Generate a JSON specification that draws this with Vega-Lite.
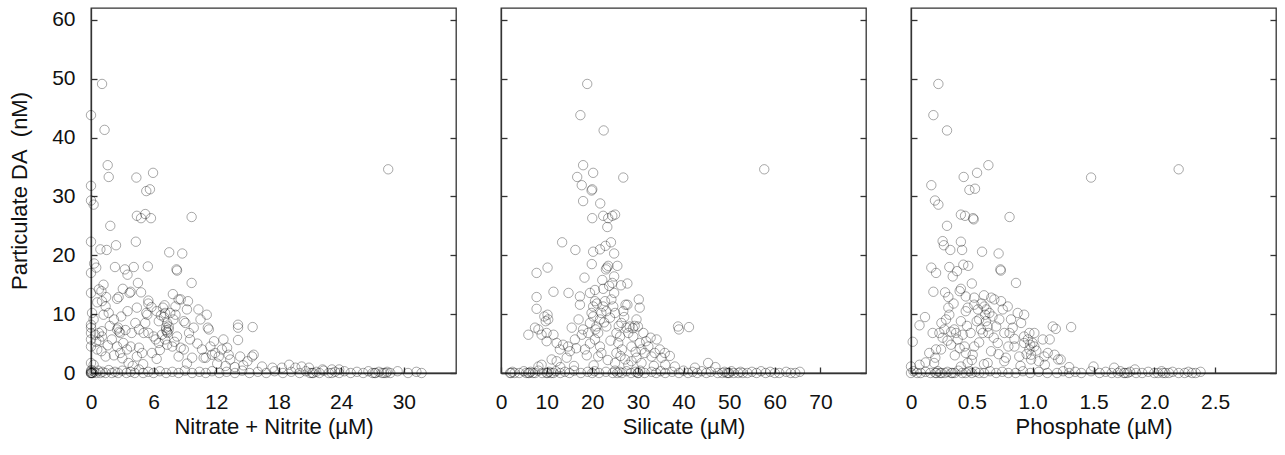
{
"$schema": "https://vega.github.io/schema/vega-lite/v6.json",
"background": "white",
"padding": {"left": 7, "top": 7, "right": 5, "bottom": 5},
"bounds": "flush",
"spacing": 45,
"config": {
  "view": {"stroke": "#333", "strokeWidth": 1.3},
  "font": "Liberation Sans",
  "axis": {"domainColor": "#333", "domainWidth": 1.3, "tickColor": "#333", "tickWidth": 1.3, "tickSize": -6, "labelFont": "Liberation Sans", "labelFontSize": 21, "labelColor": "#111", "titleFont": "Liberation Sans", "titleFontSize": 22, "titleFontWeight": "normal", "titleColor": "#111", "grid": false, "labelFlush": false},
  "axisX": {"labelPadding": 24, "titlePadding": 4},
  "axisY": {"labelPadding": 22, "titlePadding": 20}
},
"datasets": {
"nitrate": [
{"conc":1.06,"da":49.1},{"conc":0,"da":43.8},{"conc":1.3,"da":41.3},{"conc":1.6,"da":35.3},{"conc":1.7,"da":33.3},{"conc":0,"da":31.8},{"conc":0,"da":29.3},{"conc":0.25,"da":28.6},{"conc":1.85,"da":25},{"conc":0,"da":22.3},{"conc":0.9,"da":21},{"conc":1.5,"da":20.9},{"conc":2.4,"da":21.7},{"conc":0.3,"da":18.6},{"conc":0.5,"da":17.9},{"conc":0,"da":17},{"conc":2.3,"da":18},{"conc":0,"da":13.6},{"conc":0.75,"da":14.2},{"conc":1,"da":13.9},{"conc":1.45,"da":12.9},{"conc":2.65,"da":12.9},{"conc":2.5,"da":12.6},{"conc":3.05,"da":14.3},{"conc":3.25,"da":17.6},{"conc":3.5,"da":16.7},{"conc":3.7,"da":13.6},{"conc":3.8,"da":13.8},{"conc":4.35,"da":33.2},{"conc":4.4,"da":26.7},{"conc":4.8,"da":26.3},{"conc":5.2,"da":27},{"conc":5.75,"da":26.3},{"conc":4.3,"da":22.3},{"conc":4.1,"da":18},{"conc":5.45,"da":18.1},{"conc":5.3,"da":30.9},{"conc":5.65,"da":31.2},{"conc":5.95,"da":34},{"conc":4.5,"da":15.3},{"conc":4.8,"da":13.7},{"conc":9.65,"da":26.5},{"conc":7.5,"da":20.5},{"conc":8.75,"da":20.3},{"conc":8.2,"da":17.6},{"conc":8.25,"da":17.4},{"conc":9.65,"da":15.3},{"conc":7.85,"da":13.4},{"conc":8.6,"da":12.5},{"conc":9.3,"da":12.2},{"conc":4.4,"da":11.1},{"conc":5.5,"da":12.3},{"conc":5.5,"da":11.8},{"conc":28.5,"da":34.6},
{"conc":0,"da":7.7},{"conc":0,"da":8.2},{"conc":0,"da":6.8},{"conc":0,"da":5.7},{"conc":0,"da":4.5},{"conc":0.25,"da":9.1},{"conc":0.1,"da":10.2},{"conc":0.4,"da":6.5},{"conc":0.75,"da":6.8},{"conc":1.05,"da":7.1},{"conc":0.6,"da":4},{"conc":1,"da":3.7},{"conc":1.4,"da":2.8},{"conc":0,"da":1.7},{"conc":0.25,"da":1.4},{"conc":1.05,"da":12.2},{"conc":1.4,"da":11.3},{"conc":1.2,"da":9.9},{"conc":1.05,"da":6.2},{"conc":1.7,"da":10.2},{"conc":2.2,"da":9.1},{"conc":2.5,"da":7.4},{"conc":2.6,"da":7.7},{"conc":2.8,"da":6.8},{"conc":2.5,"da":4.5},{"conc":2.8,"da":3.4},{"conc":2,"da":5.7},{"conc":3.1,"da":5.1},{"conc":3.45,"da":4},{"conc":3.8,"da":4.5},{"conc":3.9,"da":6.8},{"conc":4.25,"da":8.5},{"conc":4.6,"da":7.4},{"conc":4.6,"da":4.3},{"conc":4.9,"da":3.4},{"conc":5.05,"da":6.8},{"conc":5.2,"da":8.5},{"conc":5.3,"da":10.2},{"conc":5.4,"da":9.9},{"conc":5.5,"da":6.8},{"conc":6,"da":6.2},{"conc":6.2,"da":5.7},{"conc":6.5,"da":5.1},{"conc":5.85,"da":3.4},{"conc":4.4,"da":2.8},{"conc":3.6,"da":1.7},{"conc":6.5,"da":8.8},{"conc":6.8,"da":6.5},{"conc":6.9,"da":11.1},{"conc":7.05,"da":11.5},{"conc":7.1,"da":10.2},{"conc":7.3,"da":8.5},{"conc":7.2,"da":7.7},{"conc":7.45,"da":7.4},{"conc":7.45,"da":7.9},{"conc":7.35,"da":6.8},{"conc":7.6,"da":10.2},{"conc":7.1,"da":5.7},{"conc":7.3,"da":4.8},{"conc":7.8,"da":4.5},{"conc":7.9,"da":9.1},{"conc":8.1,"da":9.9},{"conc":8.1,"da":11.3},{"conc":8.4,"da":12.5},{"conc":8.25,"da":6.2},{"conc":8.6,"da":4.3},{"conc":8.9,"da":4},{"conc":8.9,"da":8.8},{"conc":9.05,"da":8.5},{"conc":9.2,"da":10.8},{"conc":9.4,"da":6.8},{"conc":9.5,"da":5.7},{"conc":9.7,"da":2.6},{"conc":9.85,"da":7.7},{"conc":10.3,"da":10.8},{"conc":10.5,"da":9.1},{"conc":10.65,"da":4},{"conc":10.8,"da":2.6},{"conc":11,"da":2.6},{"conc":11.1,"da":9.9},{"conc":11.2,"da":7.7},{"conc":11.3,"da":7.4},{"conc":11.45,"da":4.5},{"conc":11.6,"da":3.1},{"conc":11.9,"da":3.4},{"conc":12.25,"da":2.8},{"conc":12.55,"da":4},{"conc":12.7,"da":5.7},{"conc":13.05,"da":4.3},{"conc":13.2,"da":3.1},{"conc":13.35,"da":2.3},{"conc":14.1,"da":8.2},{"conc":14.1,"da":7.7},{"conc":14.1,"da":5.6},{"conc":14.3,"da":2.8},{"conc":15.5,"da":7.8},{"conc":15.6,"da":3.1},{"conc":15.45,"da":2.8},{"conc":15,"da":2},{"conc":16.4,"da":1.1},{"conc":17.4,"da":0.9},{"conc":18.3,"da":0.9},{"conc":19,"da":1.4},{"conc":19.6,"da":0.9},{"conc":20.2,"da":1.1},{"conc":20.9,"da":0.9},{"conc":22.2,"da":0.6},{"conc":23.1,"da":0.6},{"conc":23.8,"da":0.6},
{"conc":7.2,"da":7.3},{"conc":7.3,"da":7.0},{"conc":7.0,"da":9.5},{"conc":6.7,"da":9.8},{"conc":6.3,"da":10.5},{"conc":5.8,"da":11.2},{"conc":3.3,"da":7.3},{"conc":2.7,"da":7.0},{"conc":1.8,"da":8.0},{"conc":0.5,"da":5.3},{"conc":0.8,"da":5.5},{"conc":1.6,"da":4.7},{"conc":2.2,"da":3.0},{"conc":3.0,"da":2.5},{"conc":4.0,"da":1.2},{"conc":5.0,"da":1.5},{"conc":6.6,"da":3.9},{"conc":8.4,"da":2.8},{"conc":9.2,"da":1.6},{"conc":10.2,"da":5.0},{"conc":11.8,"da":5.4},{"conc":12.1,"da":1.6},{"conc":12.9,"da":1.2},{"conc":13.8,"da":1.0},{"conc":14.6,"da":1.3},{"conc":6.3,"da":2.4},{"conc":8.0,"da":5.3},{"conc":2.9,"da":9.6},{"conc":3.5,"da":10.5},{"conc":1.2,"da":15.0},{"conc":0.6,"da":12.0},
{"conc":0,"da":0},{"conc":0,"da":0.3},{"conc":0,"da":0},{"conc":0.05,"da":0.5},{"conc":0.15,"da":0},{"conc":0.3,"da":0.2},{"conc":0.5,"da":0},{"conc":0.7,"da":0.4},{"conc":0.9,"da":0},{"conc":1.1,"da":0.2},{"conc":1.4,"da":0},{"conc":1.7,"da":0.5},{"conc":2.0,"da":0},{"conc":2.3,"da":0.2},{"conc":2.6,"da":0},{"conc":3.0,"da":0.4},{"conc":3.4,"da":0},{"conc":3.8,"da":0.2},{"conc":4.2,"da":0},{"conc":4.6,"da":0.6},{"conc":5.0,"da":0},{"conc":5.5,"da":0.2},{"conc":6.0,"da":0},{"conc":6.6,"da":0.3},{"conc":7.2,"da":0},{"conc":7.8,"da":0.2},{"conc":8.4,"da":0},{"conc":9.0,"da":0.4},{"conc":9.7,"da":0},{"conc":10.4,"da":0.2},{"conc":11.0,"da":0},{"conc":11.6,"da":0.3},{"conc":12.3,"da":0},{"conc":13.0,"da":0.2},{"conc":13.8,"da":0},{"conc":14.5,"da":0.4},{"conc":15.2,"da":0},{"conc":16.0,"da":0.2},{"conc":16.8,"da":0},{"conc":17.6,"da":0.3},{"conc":18.4,"da":0},{"conc":19.2,"da":0.2},{"conc":20.0,"da":0},{"conc":20.6,"da":0.3},{"conc":21.0,"da":0},{"conc":21.3,"da":0},{"conc":21.6,"da":0.2},{"conc":21.9,"da":0},{"conc":22.3,"da":0.4},{"conc":22.8,"da":0},{"conc":23.1,"da":0},{"conc":23.4,"da":0.2},{"conc":23.8,"da":0},{"conc":24.3,"da":0.3},{"conc":24.9,"da":0},{"conc":25.5,"da":0.2},{"conc":26.1,"da":0},{"conc":26.6,"da":0.3},{"conc":27.0,"da":0},{"conc":27.3,"da":0},{"conc":27.6,"da":0.2},{"conc":27.9,"da":0},{"conc":28.1,"da":0},{"conc":28.4,"da":0.2},{"conc":28.7,"da":0},{"conc":29.4,"da":0.3},{"conc":30.4,"da":0},{"conc":31.2,"da":0.2},{"conc":31.7,"da":0},{"conc":0,"da":0},{"conc":0.1,"da":0},{"conc":21.2,"da":0},{"conc":27.2,"da":0},{"conc":28.3,"da":0}
],
"silicate": [
{"conc":18.9,"da":49.1},{"conc":17.4,"da":43.8},{"conc":22.5,"da":41.2},{"conc":18,"da":35.3},{"conc":20.2,"da":34},{"conc":16.7,"da":33.3},{"conc":26.8,"da":33.2},{"conc":17.7,"da":31.9},{"conc":20,"da":31.2},{"conc":19.85,"da":31},{"conc":18,"da":29.2},{"conc":21.75,"da":28.8},{"conc":20,"da":26.3},{"conc":22.4,"da":26.7},{"conc":23.5,"da":26.3},{"conc":24.4,"da":26.7},{"conc":25,"da":26.9},{"conc":23.3,"da":24.8},{"conc":13.4,"da":22.2},{"conc":16.3,"da":20.9},{"conc":20.2,"da":20.6},{"conc":21.7,"da":21},{"conc":22.9,"da":21.6},{"conc":24.1,"da":22.2},{"conc":24.8,"da":20.3},{"conc":19.9,"da":18.5},{"conc":23,"da":17.6},{"conc":23.5,"da":18.2},{"conc":25.5,"da":18.2},{"conc":23.2,"da":17.9},{"conc":7.8,"da":17},{"conc":10.2,"da":17.9},{"conc":24.4,"da":15.3},{"conc":27.7,"da":15.2},{"conc":7.8,"da":12.9},{"conc":11.5,"da":13.8},{"conc":14.8,"da":13.6},{"conc":17.3,"da":13},{"conc":19.5,"da":13.6},{"conc":20.6,"da":14.1},{"conc":22.4,"da":14.3},{"conc":24.8,"da":13.6},{"conc":30.2,"da":12.5},{"conc":7.8,"da":10.9},{"conc":10.2,"da":9.9},{"conc":10.35,"da":9.1},{"conc":27.7,"da":11.6},{"conc":30.4,"da":11.1},{"conc":38.8,"da":7.9},{"conc":39,"da":7.4},{"conc":41.2,"da":7.8},{"conc":57.7,"da":34.6},
{"conc":7.45,"da":7.7},{"conc":8.2,"da":7.4},{"conc":6,"da":6.5},{"conc":8.9,"da":6.5},{"conc":10,"da":6.8},{"conc":10,"da":5.4},{"conc":11.5,"da":6.5},{"conc":12.2,"da":5.1},{"conc":12.9,"da":4},{"conc":13.6,"da":4.8},{"conc":14.7,"da":4.5},{"conc":15.1,"da":3.7},{"conc":14.4,"da":2.6},{"conc":11.1,"da":2.3},{"conc":12.2,"da":2},{"conc":16.2,"da":5.7},{"conc":15.5,"da":7.7},{"conc":17,"da":9.1},{"conc":17.3,"da":11.6},{"conc":17.7,"da":6.5},{"conc":18,"da":7.4},{"conc":18.4,"da":4},{"conc":19.1,"da":6.8},{"conc":19.5,"da":8.5},{"conc":19.85,"da":10.2},{"conc":20.2,"da":9.6},{"conc":20.2,"da":11.3},{"conc":20.6,"da":12.2},{"conc":20.7,"da":7.4},{"conc":20.9,"da":7.9},{"conc":20.6,"da":5.7},{"conc":21.3,"da":6.8},{"conc":21.7,"da":9.1},{"conc":22,"da":10.2},{"conc":22.4,"da":11.3},{"conc":22.8,"da":12.2},{"conc":23.1,"da":10.5},{"conc":23.1,"da":7.9},{"conc":21.7,"da":4.5},{"conc":22,"da":3.4},{"conc":21.3,"da":2.8},{"conc":23.9,"da":9.4},{"conc":24.2,"da":12.5},{"conc":24.6,"da":11.3},{"conc":25,"da":10.2},{"conc":25.3,"da":6.8},{"conc":25.7,"da":5.1},{"conc":26.1,"da":6.2},{"conc":26.4,"da":8.5},{"conc":26.8,"da":10.5},{"conc":27.3,"da":11.6},{"conc":27.5,"da":7.7},{"conc":27.9,"da":6.8},{"conc":28.2,"da":7.9},{"conc":28.6,"da":4.5},{"conc":29,"da":6.2},{"conc":29.7,"da":9.1},{"conc":30,"da":7.9},{"conc":30.4,"da":5.1},{"conc":30.8,"da":4},{"conc":31.2,"da":6.8},{"conc":31.5,"da":3.4},{"conc":32.3,"da":4.5},{"conc":33,"da":2.8},{"conc":33.7,"da":3.4},{"conc":34.1,"da":5.7},{"conc":34.8,"da":4},{"conc":35.2,"da":2.6},{"conc":35.9,"da":3.4},{"conc":37,"da":2.9},{"conc":25.3,"da":3.4},{"conc":27.2,"da":2.3},{"conc":25,"da":1.7},{"conc":27.9,"da":1.4},{"conc":28.6,"da":2},{"conc":29.7,"da":2.6},{"conc":30.8,"da":1.7},{"conc":8.2,"da":1.1},{"conc":8.9,"da":1.4},{"conc":45.4,"da":1.7},{"conc":38.1,"da":1.1},{"conc":42.5,"da":0.9},
{"conc":9.5,"da":9.6},{"conc":9.8,"da":8.8},{"conc":16.5,"da":4.2},{"conc":18.8,"da":3.0},{"conc":19.5,"da":5.0},{"conc":21,"da":11.8},{"conc":22.6,"da":8.6},{"conc":24,"da":5.5},{"conc":25.8,"da":8.0},{"conc":26.5,"da":4.0},{"conc":27,"da":9.5},{"conc":28.9,"da":7.6},{"conc":29.3,"da":8.0},{"conc":31.8,"da":5.4},{"conc":32.8,"da":6.0},{"conc":29.5,"da":3.6},{"conc":26.2,"da":2.9},{"conc":23.4,"da":2.2},{"conc":20.3,"da":1.3},{"conc":16,"da":1.2},{"conc":13,"da":1.0},{"conc":33.5,"da":1.2},{"conc":36,"da":1.4},{"conc":47,"da":1.0},{"conc":23.7,"da":14.8},{"conc":22.2,"da":15.8},{"conc":26.3,"da":14.9},{"conc":18.3,"da":16.2},{"conc":24.8,"da":16.4},
{"conc":2,"da":0},{"conc":2.5,"da":0.2},{"conc":3,"da":0},{"conc":4,"da":0},{"conc":5,"da":0.3},{"conc":5.5,"da":0},{"conc":6,"da":0},{"conc":6.5,"da":0.2},{"conc":7,"da":0},{"conc":7.5,"da":0},{"conc":8.2,"da":0.4},{"conc":9,"da":0},{"conc":10,"da":0},{"conc":10.5,"da":0.2},{"conc":11,"da":0},{"conc":11.5,"da":0},{"conc":12,"da":0.3},{"conc":13,"da":0},{"conc":14,"da":0.2},{"conc":15,"da":0},{"conc":16,"da":0.4},{"conc":17.5,"da":0},{"conc":19,"da":0.2},{"conc":20,"da":0},{"conc":20.5,"da":0.3},{"conc":21.5,"da":0},{"conc":23,"da":0.2},{"conc":24.5,"da":0},{"conc":25,"da":0.4},{"conc":25.5,"da":0},{"conc":26,"da":0.2},{"conc":26.5,"da":0},{"conc":27.5,"da":0.3},{"conc":28.5,"da":0},{"conc":29.5,"da":0.2},{"conc":30,"da":0},{"conc":30.5,"da":0.4},{"conc":31.5,"da":0},{"conc":33,"da":0.2},{"conc":34,"da":0},{"conc":35,"da":0.3},{"conc":36,"da":0},{"conc":37.5,"da":0.2},{"conc":39,"da":0},{"conc":40,"da":0.4},{"conc":41,"da":0},{"conc":42,"da":0.2},{"conc":43,"da":0},{"conc":44,"da":0.3},{"conc":45,"da":0},{"conc":46,"da":0.2},{"conc":47.5,"da":0},{"conc":48.5,"da":0},{"conc":49,"da":0.2},{"conc":49.5,"da":0},{"conc":50,"da":0},{"conc":50.5,"da":0.3},{"conc":51,"da":0},{"conc":52,"da":0},{"conc":52.5,"da":0.2},{"conc":53,"da":0},{"conc":54,"da":0},{"conc":55,"da":0.2},{"conc":56,"da":0},{"conc":57,"da":0.3},{"conc":58,"da":0},{"conc":59,"da":0.2},{"conc":60,"da":0},{"conc":61,"da":0},{"conc":62.5,"da":0.2},{"conc":63.5,"da":0},{"conc":64.5,"da":0},{"conc":65.5,"da":0.2},{"conc":2.2,"da":0},{"conc":6.2,"da":0},{"conc":10.2,"da":0},{"conc":49.8,"da":0},{"conc":30.1,"da":0}
],
"phosphate": [
{"conc":0.225,"da":49.1},{"conc":0.184,"da":43.8},{"conc":0.296,"da":41.2},{"conc":0.636,"da":35.3},{"conc":0.543,"da":34},{"conc":0.433,"da":33.3},{"conc":1.48,"da":33.2},{"conc":0.167,"da":31.9},{"conc":0.48,"da":31.1},{"conc":0.526,"da":31.3},{"conc":0.197,"da":29.3},{"conc":0.225,"da":28.6},{"conc":0.296,"da":25},{"conc":0.41,"da":26.9},{"conc":0.444,"da":26.7},{"conc":0.51,"da":26.3},{"conc":0.515,"da":26.1},{"conc":0.81,"da":26.5},{"conc":0.26,"da":22.4},{"conc":0.27,"da":21.7},{"conc":0.323,"da":20.9},{"conc":0.41,"da":22.3},{"conc":0.42,"da":20.9},{"conc":0.584,"da":20.6},{"conc":0.72,"da":20.3},{"conc":0.735,"da":17.6},{"conc":0.738,"da":17.4},{"conc":0.167,"da":17.9},{"conc":0.206,"da":17},{"conc":0.315,"da":18},{"conc":0.343,"da":16.4},{"conc":0.378,"da":17.3},{"conc":0.43,"da":18.4},{"conc":0.47,"da":18.2},{"conc":0.863,"da":15.3},{"conc":0.184,"da":13.8},{"conc":0.28,"da":13.7},{"conc":0.307,"da":12.9},{"conc":0.4,"da":13.9},{"conc":0.41,"da":14.3},{"conc":0.5,"da":15.2},{"conc":0.307,"da":11.1},{"conc":0.115,"da":9.5},{"conc":0.07,"da":8.1},{"conc":0.014,"da":5.3},{"conc":2.2,"da":34.6},{"conc":1.165,"da":7.9},{"conc":1.19,"da":7.5},{"conc":1.316,"da":7.8},
{"conc":0.274,"da":7.4},{"conc":0.233,"da":6.8},{"conc":0.26,"da":6},{"conc":0.247,"da":4},{"conc":0.288,"da":9.1},{"conc":0.315,"da":9.9},{"conc":0.356,"da":7.4},{"conc":0.37,"da":6.8},{"conc":0.384,"da":5.7},{"conc":0.329,"da":4.8},{"conc":0.41,"da":8.8},{"conc":0.425,"da":6.5},{"conc":0.44,"da":4.5},{"conc":0.45,"da":3.4},{"conc":0.466,"da":11.1},{"conc":0.45,"da":13},{"conc":0.49,"da":6.8},{"conc":0.507,"da":3.1},{"conc":0.52,"da":4.5},{"conc":0.52,"da":11.6},{"conc":0.55,"da":10.8},{"conc":0.56,"da":9.1},{"conc":0.575,"da":7.4},{"conc":0.59,"da":6.8},{"conc":0.603,"da":11.3},{"conc":0.61,"da":9.9},{"conc":0.617,"da":8.8},{"conc":0.63,"da":7.9},{"conc":0.636,"da":6.8},{"conc":0.644,"da":10.2},{"conc":0.658,"da":3.7},{"conc":0.67,"da":9.6},{"conc":0.685,"da":12.5},{"conc":0.7,"da":7.9},{"conc":0.713,"da":5.1},{"conc":0.726,"da":9.1},{"conc":0.74,"da":12.2},{"conc":0.754,"da":10.8},{"conc":0.767,"da":6.8},{"conc":0.78,"da":2.6},{"conc":0.795,"da":11.3},{"conc":0.81,"da":6.8},{"conc":0.822,"da":9.1},{"conc":0.836,"da":7.7},{"conc":0.85,"da":4.5},{"conc":0.877,"da":10.2},{"conc":0.905,"da":8.5},{"conc":0.93,"da":9.9},{"conc":0.93,"da":5.1},{"conc":0.89,"da":2.8},{"conc":0.96,"da":5.7},{"conc":0.973,"da":4},{"conc":0.987,"da":3.1},{"conc":1.0,"da":5.1},{"conc":1.014,"da":4.5},{"conc":0.987,"da":2.3},{"conc":1.083,"da":5.7},{"conc":1.14,"da":5.7},{"conc":1.096,"da":2.8},{"conc":1.124,"da":3.4},{"conc":1.18,"da":3.1},{"conc":1.21,"da":2.3},{"conc":1.23,"da":2.3},{"conc":1.014,"da":6.8},{"conc":0.973,"da":6.8},{"conc":0.93,"da":6.2},{"conc":0.178,"da":6.8},{"conc":0.206,"da":4},{"conc":0.15,"da":3.4},{"conc":0.07,"da":1.4},{"conc":0,"da":1.1},{"conc":0.19,"da":1.7},{"conc":0.41,"da":1.1},{"conc":0.466,"da":1.7},{"conc":0.63,"da":1.7},{"conc":0.767,"da":2},{"conc":1.5,"da":1.1},{"conc":1.67,"da":0.9},{"conc":1.84,"da":0.6},
{"conc":0.35,"da":11.8},{"conc":0.45,"da":10.5},{"conc":0.52,"da":12.8},{"conc":0.6,"da":13.2},{"conc":0.66,"da":12.8},{"conc":0.25,"da":8.5},{"conc":0.3,"da":5.5},{"conc":0.36,"da":3.0},{"conc":0.5,"da":2.2},{"conc":0.56,"da":5.2},{"conc":0.68,"da":6.0},{"conc":0.72,"da":3.2},{"conc":0.8,"da":4.5},{"conc":0.85,"da":5.8},{"conc":0.95,"da":3.2},{"conc":0.98,"da":4.8},{"conc":1.03,"da":3.8},{"conc":1.05,"da":2.0},{"conc":0.6,"da":1.5},{"conc":0.9,"da":1.2},{"conc":1.3,"da":1.0},{"conc":1.1,"da":1.4},{"conc":0.2,"da":2.6},{"conc":0.12,"da":1.8},{"conc":0.46,"da":8.0},{"conc":0.54,"da":8.8},{"conc":0.62,"da":10.8},{"conc":0.58,"da":11.8},{"conc":0.33,"da":7.0},{"conc":0.4,"da":4.2},
{"conc":0,"da":0},{"conc":0.02,"da":0.3},{"conc":0.05,"da":0},{"conc":0.08,"da":0},{"conc":0.12,"da":0.2},{"conc":0.16,"da":0},{"conc":0.2,"da":0},{"conc":0.22,"da":0.3},{"conc":0.25,"da":0},{"conc":0.28,"da":0},{"conc":0.3,"da":0.2},{"conc":0.33,"da":0},{"conc":0.36,"da":0},{"conc":0.39,"da":0.4},{"conc":0.42,"da":0},{"conc":0.45,"da":0},{"conc":0.48,"da":0.3},{"conc":0.5,"da":0},{"conc":0.53,"da":0.2},{"conc":0.56,"da":0},{"conc":0.6,"da":0},{"conc":0.65,"da":0.3},{"conc":0.7,"da":0},{"conc":0.75,"da":0.2},{"conc":0.8,"da":0},{"conc":0.86,"da":0},{"conc":0.92,"da":0.3},{"conc":0.98,"da":0},{"conc":1.05,"da":0.2},{"conc":1.12,"da":0},{"conc":1.2,"da":0},{"conc":1.25,"da":0.3},{"conc":1.3,"da":0},{"conc":1.35,"da":0.2},{"conc":1.4,"da":0},{"conc":1.48,"da":0.3},{"conc":1.55,"da":0},{"conc":1.6,"da":0.2},{"conc":1.65,"da":0},{"conc":1.7,"da":0},{"conc":1.72,"da":0.3},{"conc":1.75,"da":0},{"conc":1.78,"da":0},{"conc":1.8,"da":0.2},{"conc":1.85,"da":0},{"conc":1.9,"da":0},{"conc":1.95,"da":0.2},{"conc":2.0,"da":0},{"conc":2.03,"da":0},{"conc":2.06,"da":0.3},{"conc":2.09,"da":0},{"conc":2.12,"da":0},{"conc":2.15,"da":0.2},{"conc":2.2,"da":0},{"conc":2.25,"da":0},{"conc":2.28,"da":0.2},{"conc":2.31,"da":0},{"conc":2.34,"da":0},{"conc":2.38,"da":0.2},{"conc":0.21,"da":0},{"conc":0.24,"da":0},{"conc":0.34,"da":0},{"conc":1.76,"da":0},{"conc":2.07,"da":0}
]
},
"hconcat": [
{
 "width": 365, "height": 365,
 "layer": [
  {"data": {"name": "nitrate"},
   "mark": {"type": "point", "shape": "circle", "filled": false, "size": 88, "stroke": "#000", "strokeOpacity": 0.48, "strokeWidth": 1, "clip": false},
   "encoding": {
    "x": {"field": "conc", "type": "quantitative", "scale": {"domain": [0, 35], "nice": false}, "axis": {"values": [0, 6, 12, 18, 24, 30], "title": "Nitrate + Nitrite (µM)"}},
    "y": {"field": "da", "type": "quantitative", "scale": {"domain": [0, 62], "nice": false}, "axis": {"values": [0, 10, 20, 30, 40, 50, 60], "title": "Particulate DA\u00a0 (nM)"}}
   }},
  {"data": {"values": [{"v": 0}]},
   "mark": {"type": "rule", "strokeOpacity": 0},
   "encoding": {"y": {"field": "v", "type": "quantitative", "axis": {"orient": "right", "labels": false, "title": null, "domain": false, "values": [0, 10, 20, 30, 40, 50, 60]}}}}
 ],
 "resolve": {"axis": {"y": "independent"}}
},
{
 "width": 365, "height": 365,
 "layer": [
  {"data": {"name": "silicate"},
   "mark": {"type": "point", "shape": "circle", "filled": false, "size": 88, "stroke": "#000", "strokeOpacity": 0.48, "strokeWidth": 1, "clip": false},
   "encoding": {
    "x": {"field": "conc", "type": "quantitative", "scale": {"domain": [0, 80], "nice": false}, "axis": {"values": [0, 10, 20, 30, 40, 50, 60, 70], "title": "Silicate (µM)"}},
    "y": {"field": "da", "type": "quantitative", "scale": {"domain": [0, 62], "nice": false}, "axis": {"values": [0, 10, 20, 30, 40, 50, 60], "labels": false, "title": null}}
   }},
  {"data": {"values": [{"v": 0}]},
   "mark": {"type": "rule", "strokeOpacity": 0},
   "encoding": {"y": {"field": "v", "type": "quantitative", "axis": {"orient": "right", "labels": false, "title": null, "domain": false, "values": [0, 10, 20, 30, 40, 50, 60]}}}}
 ],
 "resolve": {"axis": {"y": "independent"}}
},
{
 "width": 365, "height": 365,
 "layer": [
  {"data": {"name": "phosphate"},
   "mark": {"type": "point", "shape": "circle", "filled": false, "size": 88, "stroke": "#000", "strokeOpacity": 0.48, "strokeWidth": 1, "clip": false},
   "encoding": {
    "x": {"field": "conc", "type": "quantitative", "scale": {"domain": [0, 3], "nice": false}, "axis": {"values": [0, 0.5, 1, 1.5, 2, 2.5], "labelExpr": "datum.value == 0 ? '0' : format(datum.value, '.1f')", "title": "Phosphate (µM)"}},
    "y": {"field": "da", "type": "quantitative", "scale": {"domain": [0, 62], "nice": false}, "axis": {"values": [0, 10, 20, 30, 40, 50, 60], "labels": false, "title": null}}
   }},
  {"data": {"values": [{"v": 0}]},
   "mark": {"type": "rule", "strokeOpacity": 0},
   "encoding": {"y": {"field": "v", "type": "quantitative", "axis": {"orient": "right", "labels": false, "title": null, "domain": false, "values": [0, 10, 20, 30, 40, 50, 60]}}}}
 ],
 "resolve": {"axis": {"y": "independent"}}
}
]
}
